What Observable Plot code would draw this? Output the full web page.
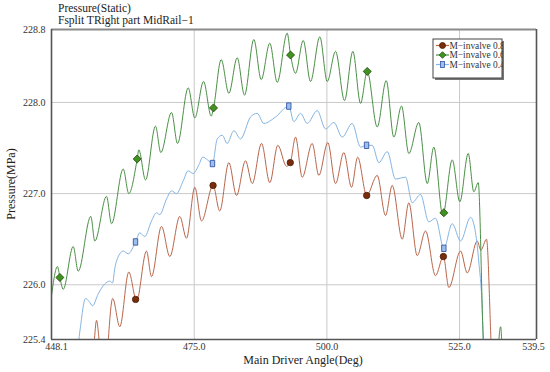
<!DOCTYPE html>
<html><head><meta charset="utf-8">
<script src="https://cdn.jsdelivr.net/npm/d3@7"></script>
<script src="https://cdn.jsdelivr.net/npm/@observablehq/plot@0.6"></script>
<style>
body{margin:0;background:#fff}
#chart{position:relative;width:550px;height:372px;overflow:hidden}
</style>
</head><body><div id="chart"></div>
<script>
// ---- tick labels / texts ----
const titleLines = ["Pressure(Static)", "Fsplit TRight part MidRail\u22121"];
const xTitle = "Main Driver Angle(Deg)";
const yTitle = "Pressure(MPa)";
const seriesNames = ["M\u2212invalve 0.8", "M\u2212invalve 0.6", "M\u2212invalve 0.4"];
const xDomain = [448.1, 539.5];
const yDomain = [225.4, 228.8];
const xTicksInner = [475.0, 500.0, 525.0];
const yTicks = [225.4, 226.0, 227.0, 228.0, 228.8];
const xGrid = [475, 500, 525];
const yGrid = [226, 227, 228];

// ---- series (angle, pressure) ----
const red08 = [[455.4,225.0],[456.15,225.38],[456.58,225.61],[457.2,225.32],[457.9,225.0],[458.4,225.0],[458.79,225.38],[459.63,225.85],[460.97,225.54],[462.67,226.14],[464.12,225.82],[466.0,226.37],[466.95,226.09],[468.83,226.64],[470.40,226.31],[472.28,226.75],[473.54,226.51],[475.11,227.07],[476.37,226.70],[478.54,227.10],[479.8,226.81],[481.52,227.34],[482.97,226.98],[484.66,227.36],[485.93,227.11],[487.68,227.55],[489.24,227.12],[490.75,227.53],[492.39,227.30],[494.09,227.62],[495.35,227.18],[497.23,227.55],[498.48,227.20],[500.17,227.56],[501.63,227.11],[503.19,227.45],[504.64,227.07],[505.8,227.40],[507.55,226.96],[509.48,227.20],[511.05,226.76],[512.31,227.09],[514.2,226.50],[515.44,226.90],[517.02,226.32],[518.59,226.59],[520.47,226.10],[521.98,226.30],[522.98,225.97],[525.19,226.37],[526.45,226.13],[528.33,226.48],[529.01,226.38],[530.08,226.50],[530.93,225.38],[531.2,225.0]];
const green06 = [[448.1,225.88],[449.23,226.20],[450.3,225.95],[452.19,226.42],[453.13,226.15],[455.51,226.75],[456.26,226.48],[458.47,226.97],[459.41,226.67],[461.61,227.27],[462.67,227.00],[464.55,227.48],[465.82,227.15],[467.70,227.74],[468.70,227.45],[470.72,227.89],[471.85,227.55],[473.86,228.16],[475.11,227.83],[476.75,228.23],[478.20,227.85],[480.08,228.47],[481.52,228.10],[483.10,228.49],[484.47,228.08],[486.23,228.69],[487.62,228.25],[489.24,228.65],[490.64,228.22],[492.52,228.76],[494.09,228.32],[495.54,228.68],[496.91,228.23],[498.67,228.72],[500.06,228.23],[501.63,228.56],[503.32,228.02],[504.89,228.56],[506.34,227.99],[507.75,228.37],[509.48,227.73],[511.18,228.24],[512.61,227.62],[514.06,227.96],[515.44,227.44],[517.32,227.78],[518.91,227.11],[520.15,227.51],[521.85,226.76],[523.62,227.37],[525.05,226.91],[526.63,227.44],[527.69,227.02],[528.52,227.12],[529.46,225.41],[529.8,225.0],[532.2,225.0],[532.4,225.38],[532.75,225.54],[532.95,225.38],[533.2,225.0]];
const blue04 = [[452.8,225.1],[453.24,225.39],[453.56,225.54],[454.51,225.85],[455.14,225.82],[455.83,225.77],[456.90,225.90],[458.15,226.01],[459.09,226.04],[459.6,226.02],[460.03,226.18],[460.97,226.34],[461.61,226.37],[462.56,226.34],[464.74,226.57],[465.68,226.53],[466.95,226.70],[467.89,226.79],[468.51,226.77],[469.77,226.94],[470.72,227.03],[471.66,227.00],[472.92,227.14],[473.86,227.25],[474.81,227.22],[475.9,227.32],[476.6,227.40],[477.5,227.37],[479.33,227.60],[480.27,227.64],[481.21,227.55],[482.46,227.69],[483.72,227.60],[485.61,227.84],[486.87,227.88],[488.11,227.77],[490.32,227.84],[493.77,227.79],[495.03,227.88],[496.29,227.77],[498.18,227.91],[499.74,227.71],[501.31,227.78],[502.89,227.62],[504.77,227.77],[506.34,227.51],[508.54,227.53],[509.79,227.34],[511.37,227.46],[512.93,227.16],[514.82,227.18],[516.08,226.90],[517.64,226.99],[519.21,226.69],[520.47,226.73],[523.62,226.67],[525.19,226.48],[527.07,226.74],[528.01,226.57],[528.63,226.25],[529.27,225.73],[529.46,225.41],[529.7,225.05]];

// ---- marker points ----
const red08Marks = [[463.95,225.84],[478.55,227.09],[493.1,227.34],[507.5,226.98],[521.95,226.31]];
const green06Marks = [[449.68,226.08],[464.25,227.38],[478.63,227.94],[493.15,228.52],[507.6,228.34],[522.04,226.79]];
const blue04Marks = [[463.93,226.47],[478.44,227.33],[492.82,227.96],[507.47,227.53],[522.04,226.40]];

const lineColors = ["#b9654a", "#4a9046", "#84b4e2"];

function merge(series, marks) {
  const rest = series.filter(p => !marks.some(m => Math.abs(m[0] - p[0]) < 0.15));
  return d3.sort(rest.concat(marks), d => d[0]);
}

const rectSymbol = {draw(ctx) { ctx.rect(-2.2, -3.2, 4.4, 6.4); }};

const fmt = d => d.toFixed(1);
const ff = "Liberation Serif, Times New Roman, serif";
const plot = Plot.plot({
  width: 550, height: 372,
  marginLeft: 51, marginRight: 14, marginTop: 29, marginBottom: 33,
  style: {fontFamily: ff, fontSize: "10px", color: "#333", background: "#fff"},
  x: {domain: xDomain},
  y: {domain: yDomain},
  marks: [
    Plot.gridX(xGrid, {stroke: "#c9c9c9", strokeOpacity: 1}),
    Plot.gridY(yGrid, {stroke: "#c9c9c9", strokeOpacity: 1}),
    Plot.line(merge(red08, red08Marks), {x: d => d[0], y: d => d[1], stroke: lineColors[0], strokeWidth: 1, curve: "monotone-x", clip: true}),
    Plot.line(merge(blue04, blue04Marks), {x: d => d[0], y: d => d[1], stroke: lineColors[2], strokeWidth: 1, curve: "monotone-x", clip: true}),
    Plot.line(merge(green06, green06Marks), {x: d => d[0], y: d => d[1], stroke: lineColors[1], strokeWidth: 1, curve: "monotone-x", clip: true}),
    Plot.dot(red08Marks, {x: d => d[0], y: d => d[1], r: 3.2, symbol: "circle", fill: "#7a2d0c", stroke: "#4a1a05", strokeWidth: 0.8}),
    Plot.dot(green06Marks, {x: d => d[0], y: d => d[1], r: 3.6, symbol: "diamond2", fill: "#3f9420", stroke: "#2b4d12", strokeWidth: 0.9}),
    Plot.dot(blue04Marks, {x: d => d[0], y: d => d[1], symbol: rectSymbol, fill: "#9cc0ee", stroke: "#3555a5", strokeWidth: 0.9}),
    Plot.ruleY([yDomain[1]], {stroke: "#8a8a8a", strokeWidth: 2}),
    Plot.ruleY([yDomain[0]], {stroke: "#555", strokeWidth: 1.6}),
    Plot.ruleX([xDomain[0]], {stroke: "#555", strokeWidth: 1.6}),
    Plot.ruleX([xDomain[1]], {stroke: "#555", strokeWidth: 1.6}),
    Plot.axisY(yTicks, {tickSize: 0, tickPadding: 6, tickFormat: fmt, label: null}),
    Plot.axisX(xTicksInner, {tickSize: 0, tickPadding: 3, tickFormat: fmt, label: null}),
    Plot.axisX([xDomain[0]], {tickSize: 0, tickPadding: 3, tickFormat: fmt, label: null, dx: 5}),
    Plot.axisX([xDomain[1]], {tickSize: 0, tickPadding: 3, tickFormat: fmt, label: null, dx: -3})
  ]
});
document.getElementById("chart").appendChild(plot);

const svg = d3.select(plot);
svg.append("text").attr("x", 58).attr("y", 12).attr("text-anchor", "start").attr("font-size", 11.5).attr("fill", "#222").text(titleLines[0]);
svg.append("text").attr("x", 58).attr("y", 24).attr("text-anchor", "start").attr("font-size", 11.5).attr("fill", "#222").text(titleLines[1]);
svg.append("text").attr("x", 303).attr("y", 364).attr("text-anchor", "middle").attr("font-size", 12).attr("fill", "#222").text(xTitle);
svg.append("text").attr("transform", "translate(15,184) rotate(-90)").attr("text-anchor", "middle").attr("font-size", 12).attr("fill", "#222").text(yTitle);

// legend
const lg = svg.append("g");
lg.append("rect").attr("x", 435).attr("y", 41).attr("width", 69).attr("height", 39).attr("fill", "#777");
lg.append("rect").attr("x", 433).attr("y", 39).attr("width", 69).attr("height", 39).attr("fill", "#fff").attr("stroke", "#444").attr("stroke-width", 1);
svg.append("defs").append("clipPath").attr("id", "lgclip").append("rect").attr("x", 433).attr("y", 39).attr("width", 70).attr("height", 39);
const rowsY = [45.5, 55, 64.5];
const markerDraw = [
  g => g.append("circle").attr("r", 3).attr("fill", "#7a2d0c").attr("stroke", "#4a1a05").attr("stroke-width", 0.8),
  g => g.append("path").attr("d", "M0,-3.3L3.3,0L0,3.3L-3.3,0Z").attr("fill", "#3f9420").attr("stroke", "#2b4d12").attr("stroke-width", 0.8),
  g => g.append("rect").attr("x", -2).attr("y", -3).attr("width", 4).attr("height", 6).attr("fill", "#9cc0ee").attr("stroke", "#3555a5").attr("stroke-width", 0.8)
];
seriesNames.forEach((name, i) => {
  const y = rowsY[i];
  lg.append("line").attr("x1", 436).attr("x2", 449).attr("y1", y).attr("y2", y).attr("stroke", lineColors[i]).attr("stroke-width", 1.2);
  markerDraw[i](lg.append("g").attr("transform", `translate(442.5,${y})`));
  lg.append("text").attr("x", 449.5).attr("y", y + 3.3).attr("text-anchor", "start").attr("font-size", 9.4).attr("fill", "#333").attr("clip-path", "url(#lgclip)").text(name);
});
// force the serif face on every text, including the axis tick labels
svg.selectAll("text").style("font-family", ff);
</script>
</body></html>
